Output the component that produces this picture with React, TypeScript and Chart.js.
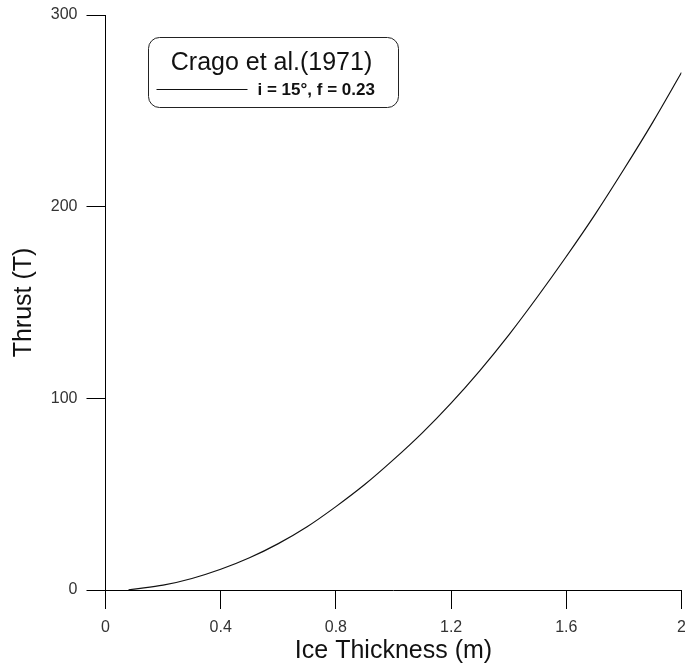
import React, { useEffect, useRef } from "react";
import { Chart, registerables } from "chart.js";

Chart.register(...registerables);

// Data
const thickness = [0.08, 0.1, 0.2, 0.3, 0.4, 0.5, 0.6, 0.7, 0.8, 0.9, 1.0, 1.1, 1.2, 1.3, 1.4, 1.5, 1.6, 1.7, 1.8, 1.9, 2.0];
const thrust = [0.1, 0.5, 2.5, 6, 10.8, 16.8, 24.2, 33, 43.5, 55, 68, 82, 97.5, 114.5, 133, 153, 174, 196, 219.5, 244, 270];

const legendTitle = "Crago et al.(1971)";
const seriesLabel = "i = 15\u00B0, f = 0.23";
const xTitle = "Ice Thickness (m)";
const yTitle = "Thrust (T)";
const xRange = [0, 2];
const xStep = 0.4;
const yRange = [0, 300];
const yStep = 100;

const FONT = '"Liberation Sans", Arial, Helvetica, sans-serif';

const legendBoxPlugin = {
  id: "legendBox",
  afterDraw(chart: any) {
    const ctx = chart.ctx as CanvasRenderingContext2D;
    const ds = chart.data.datasets[0];
    const ca = chart.chartArea;
    const bx = ca.left + 42;
    const by = 37.5;
    ctx.save();
    ctx.beginPath();
    (ctx as any).roundRect(Math.round(bx) + 0.5, by, 250, 70, 11);
    ctx.fillStyle = "#ffffff";
    ctx.fill();
    ctx.strokeStyle = "#222";
    ctx.lineWidth = 1;
    ctx.stroke();

    ctx.fillStyle = "#111";
    ctx.font = `25px ${FONT}`;
    ctx.textAlign = "center";
    ctx.textBaseline = "alphabetic";
    ctx.fillText(legendTitle, bx + 124, 70);

    ctx.beginPath();
    ctx.moveTo(bx + 9, 89.5);
    ctx.lineTo(bx + 100, 89.5);
    ctx.strokeStyle = ds.borderColor;
    ctx.lineWidth = 1;
    ctx.stroke();

    ctx.font = `bold 17px ${FONT}`;
    ctx.textAlign = "left";
    ctx.fillText(ds.label, bx + 110, 95);
    ctx.restore();
  },
};

export default function App() {
  const ref = useRef<HTMLCanvasElement | null>(null);

  useEffect(() => {
    if (!ref.current) return;
    const points = thickness.map((x, i) => ({ x, y: thrust[i] }));
    const chart = new Chart(ref.current, {
      type: "line",
      data: {
        datasets: [
          {
            label: seriesLabel,
            data: points,
            borderColor: "#111111",
            borderWidth: 1.2,
            pointRadius: 0,
            cubicInterpolationMode: "monotone",
            fill: false,
          },
        ],
      },
      options: {
        responsive: false,
        animation: false,
        layout: { padding: { top: 15, right: 3.5, left: 0, bottom: 0 } },
        plugins: {
          legend: { display: false },
          tooltip: { enabled: false },
        },
        scales: {
          x: {
            type: "linear",
            min: xRange[0],
            max: xRange[1],
            afterFit(scale: any) {
              scale.height = 78;
              scale.paddingLeft = 0;
              scale.paddingRight = 0;
            },
            ticks: {
              stepSize: xStep,
              color: "#333",
              font: { family: FONT, size: 16 },
              padding: 9,
              maxRotation: 0,
              callback: (v: any) => String(Number(Number(v).toFixed(1))),
            },
            grid: {
              drawOnChartArea: false,
              drawTicks: true,
              tickLength: 19,
              tickColor: "#000",
              tickWidth: 1,
            },
            border: { display: true, color: "#000", width: 1 },
            title: {
              display: true,
              text: xTitle,
              color: "#111",
              font: { family: FONT, size: 25 },
              padding: { top: 0, bottom: 2 },
            },
          },
          y: {
            type: "linear",
            min: yRange[0],
            max: yRange[1],
            afterFit(scale: any) {
              scale.width = 105.5;
              scale.paddingTop = 0;
              scale.paddingBottom = 0;
            },
            ticks: {
              stepSize: yStep,
              color: "#333",
              font: { family: FONT, size: 16 },
              padding: 9,
            },
            grid: {
              drawOnChartArea: false,
              drawTicks: true,
              tickLength: 19,
              tickColor: "#000",
              tickWidth: 1,
            },
            border: { display: true, color: "#000", width: 1 },
            title: {
              display: true,
              text: yTitle,
              color: "#111",
              font: { family: FONT, size: 25 },
              padding: { top: 9, bottom: 0 },
            },
          },
        },
      },
      plugins: [legendBoxPlugin],
    } as any);
    return () => chart.destroy();
  }, []);

  return (
    <div style={{ position: "absolute", left: 0, top: 0, width: 685, height: 668, background: "#fff" }}>
      <canvas ref={ref} width={685} height={668} />
    </div>
  );
}
